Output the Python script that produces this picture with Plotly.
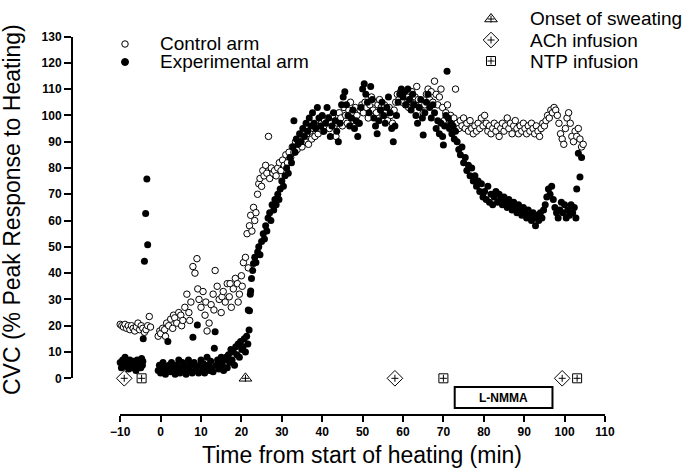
import plotly.graph_objects as go

# ---------------- data ----------------
# Control arm (open circles): time (min) and CVC (% peak)
ctrl_t = [
    -10.0, -9.6, -9.2, -8.8, -8.4, -8.0, -7.6, -7.2, -6.8, -6.4, -6.0, -5.6, -5.2, -4.8, -4.4, -4.0, -3.6, -3.2, -2.8, -2.5,
    -0.6, -0.2, 0.0, 0.5, 1.0, 1.2, 1.5, 2.0, 2.5, 3.0, 3.2, 3.5, 4.0, 4.5, 5.0, 5.2, 5.5, 6.0, 6.5, 7.0,
    7.2, 7.5, 8.0, 8.5, 9.0, 9.2, 9.5, 10.0, 10.5, 11.0, 11.2, 11.5, 12.0, 12.5, 13.0, 13.2, 13.5, 14.0, 14.5, 15.0,
    15.2, 15.5, 16.0, 16.5, 17.0, 17.2, 17.5, 18.0, 18.5, 19.0, 19.2, 19.5, 20.0, 20.2, 20.5,
    21.0, 21.4, 21.7, 22.0, 22.3, 22.6, 23.0, 23.3, 23.6, 24.0, 24.3, 24.6, 25.0, 25.3, 25.6, 26.0, 26.3, 26.7, 27.0, 27.4,
    27.8, 28.2, 28.6, 29.0, 29.4, 29.8,
    30.2, 30.6, 31.0, 31.4, 31.8, 32.2, 32.6, 33.0, 33.4, 33.8, 34.2, 34.6, 35.0, 35.4, 35.8, 36.2, 36.6, 37.0, 37.4, 37.8,
    38.2, 38.6, 39.0, 39.4, 39.8,
    40.2, 40.6, 41.0, 41.4, 41.8, 42.2, 42.6, 43.0, 43.4, 43.8, 44.2, 44.6, 45.0, 45.4, 45.8, 46.2, 46.6, 47.0, 47.4, 47.8,
    48.2, 48.6, 49.0, 49.4, 49.8, 50.2, 50.6, 51.0, 51.4, 51.8, 52.2, 52.6, 53.0, 53.4, 53.8, 54.2, 54.6,
    55.0, 55.4, 55.8, 56.2, 56.6, 57.0, 57.4, 57.8, 58.2, 58.6, 59.0, 59.4, 59.8, 60.2, 60.6, 61.0, 61.4, 61.8, 62.2, 62.6,
    63.0, 63.4, 63.8, 64.2, 64.6, 65.0, 65.4, 65.8, 66.2, 66.6, 67.0, 67.4, 67.8, 68.2, 68.6, 69.0, 69.4, 69.8,
    70.2, 70.6, 71.0, 71.4, 71.8, 72.2, 72.6, 73.0, 73.4, 73.8, 74.2,
    74.6, 75.0, 75.4, 75.8, 76.2, 76.6, 77.0, 77.4, 77.8, 78.2, 78.6, 79.0, 79.4, 79.8, 80.2, 80.6, 81.0, 81.4, 81.8, 82.2,
    82.6, 83.0, 83.4, 83.8, 84.2, 84.6, 85.0, 85.4, 85.8, 86.2, 86.6, 87.0, 87.4, 87.8, 88.2, 88.6, 89.0, 89.4, 89.8, 90.2,
    90.6, 91.0, 91.4, 91.8, 92.2, 92.6, 93.0, 93.4, 93.8, 94.2, 94.6,
    95.0, 95.4, 95.8, 96.2, 96.6, 97.0, 97.4, 97.8, 98.2, 98.6, 99.0, 99.4, 99.8, 100.2, 100.6, 101.0, 101.4, 101.8, 102.2, 102.6,
    103.0, 103.4, 103.8, 104.2, 104.6,
]
ctrl_v = [
    20.5, 20, 19.5, 20.5, 19, 20, 18.5, 20, 19, 18, 19.5, 21, 18.5, 20, 19, 17.5, 18.5, 20, 23.5, 19.5,
    16, 18, 17, 19, 18.5, 16, 21, 20, 22.5, 19, 24, 23, 21, 25, 24, 20, 22, 27, 32, 25,
    22, 29, 42.5, 40, 45.5, 34, 30, 27, 33, 24, 29, 18, 21, 28, 32, 26, 41, 35, 30, 25,
    31, 33, 29, 36, 31, 36, 27, 34, 38, 36, 29, 32, 39, 35, 44,
    46, 55, 42, 58, 62, 56, 65, 60, 63, 70, 74, 76, 73, 79, 77, 81, 78, 92, 76, 80,
    78, 79, 77, 80, 82, 79,
    83, 81, 85, 82, 86, 84, 88, 86, 90, 87, 89, 92, 88, 91, 90, 93, 89, 94, 91, 95,
    92, 96, 93, 95, 97,
    94, 98, 96, 99, 95, 97, 100, 96, 92, 97, 101, 99, 96, 103, 100, 97, 102, 105, 101, 98,
    103, 100, 97, 102, 104, 101, 105, 103, 99, 104, 107, 102, 105, 101, 104, 106, 103,
    100, 104, 101, 98, 103, 100, 97, 102, 105, 108, 106, 109, 105, 108, 104, 107, 103, 106, 109, 104,
    107, 111, 106, 103, 105, 101, 104, 108, 110, 106, 109, 105, 113, 108, 104, 107, 110, 103,
    98, 101, 104, 97, 100, 95, 99, 110, 97, 95, 98,
    96, 99, 95, 97, 94, 98, 95, 93, 96, 94, 97, 95, 99, 96, 100, 97, 94, 96, 93, 95,
    97, 94, 96, 92, 95, 97, 94, 96, 99, 95, 97, 93, 96, 98, 95, 93, 96, 94, 97, 95,
    93, 96, 94, 97, 95, 93, 96, 94, 92, 95, 97,
    96, 98, 100, 99, 102, 101, 103, 102, 100, 97, 93, 91, 89, 95, 99, 101, 97, 92, 90, 94,
    92, 95, 91, 88, 89,
]

# Experimental arm (filled circles)
exp_t = [
    -10.0, -9.7, -9.4, -9.1, -8.8, -8.5, -8.2, -7.9, -7.6, -7.3, -7.0, -6.7, -6.4, -6.1, -5.8, -5.5, -5.2, -4.9, -4.7, -4.5,
    -4.4, -4.3, -4.0, -3.7, -3.4, -3.2,
    -0.6, -0.3, 0.0, 0.3, 0.6, 0.9, 1.2, 1.5, 1.8, 2.1, 2.4, 2.7, 3.0, 3.3, 3.6, 3.9, 4.2, 4.5, 4.8, 5.1,
    5.4, 5.7, 6.0, 6.3, 6.6, 6.9, 7.2, 7.5, 7.8, 8.0, 8.3, 8.6, 8.9, 9.1, 9.4, 9.7, 10.0, 10.3, 10.6, 10.9,
    11.2, 11.5, 11.8, 12.1, 12.4, 12.7, 13.0, 13.3, 13.5, 13.8, 14.1, 14.4, 14.7, 15.0, 15.3, 15.6, 15.9,
    16.2, 16.5, 16.8, 17.1, 17.4, 17.7, 18.0, 18.3, 18.6, 18.9, 19.2, 19.5, 19.8, 20.1, 20.4, 20.7, 21.0, 21.3, 21.6,
    21.7, 21.9, 22.0, 22.2, 22.3, 22.5, 22.8, 23.0, 23.3, 23.6, 24.0, 24.3, 24.6, 25.0, 25.4, 25.7, 26.0, 26.3, 26.6, 27.0,
    27.3, 27.6, 28.0, 28.3, 28.6, 29.0, 29.3, 29.6, 30.0, 30.4, 30.8,
    31.2, 31.6, 32.0, 32.4, 32.8, 33.0, 33.3, 33.6, 34.0, 34.4, 34.8, 35.2, 35.6, 36.0, 36.4, 36.8, 37.2, 37.6, 38.0, 38.4,
    38.8, 39.2, 39.6,
    40.0, 40.4, 40.8, 41.2, 41.6, 42.0, 42.4, 42.8, 43.2, 43.6, 44.0, 44.4, 44.8, 45.2, 45.6, 46.0, 46.4, 46.8, 47.2, 47.6,
    48.0, 48.4, 48.8, 49.2, 49.6, 50.0, 50.4, 50.8, 51.2, 51.6, 52.0, 52.4, 52.8, 53.2, 53.6, 54.0, 54.4, 54.8,
    55.2, 55.6, 56.0, 56.4, 56.8, 57.2, 57.6, 58.0, 58.4, 58.8, 59.2, 59.6, 60.0, 60.4, 60.8, 61.2, 61.6, 62.0, 62.4, 62.8,
    63.2, 63.6, 64.0, 64.4, 64.8, 65.0, 65.4, 65.8, 66.2, 66.6, 67.0, 67.4, 67.8, 68.2, 68.6, 69.0, 69.4, 69.8,
    70.0, 70.3, 70.6, 70.9, 71.2, 71.5, 71.8, 72.1, 72.4, 72.7, 73.0, 73.4, 73.8,
    74.2, 74.6, 75.0, 75.4, 75.8, 76.2, 76.6, 77.0, 77.4, 77.8, 78.2, 78.6, 79.0, 79.4, 79.8,
    80.2, 80.6, 81.0, 81.4, 81.8, 82.2, 82.6, 83.0, 83.4, 83.8, 84.2, 84.6, 85.0, 85.4, 85.8, 86.2, 86.6, 87.0, 87.4, 87.8,
    88.2, 88.6, 89.0, 89.4, 89.8, 90.2, 90.6, 91.0, 91.4, 91.8, 92.2, 92.6, 92.8, 93.2, 93.6, 94.0, 94.4, 94.8,
    95.2, 95.6, 96.0, 96.4, 96.8, 97.2, 97.6, 98.0, 98.4, 98.8, 99.2, 99.6, 100.0, 100.4, 100.8, 101.2, 101.6, 102.0, 102.4, 102.8,
    103.0, 103.4, 103.8, 104.2,
]
exp_v = [
    6, 4, 7, 5, 8, 4.5, 6, 3.5, 7, 5, 4, 6.5, 5.5, 3, 7, 5, 6, 4, 7.5, 5,
    6.5, 15, 44.5, 62.7, 75.8, 50.8,
    3, 5, 2, 4, 6, 3, 1.5, 4, 14, 5, 2.5, 6, 3, 4.5, 1.5, 5, 3, 7, 2, 4,
    6, 3, 5, 1.5, 4, 7, 3, 5, 2, 15.6, 6, 3, 4.5, 20.3, 2, 5, 7, 3, 5.5, 2,
    4, 8, 5, 3, 6.5, 4, 2.5, 11.4, 17.7, 5, 7, 3.5, 6, 8, 5, 3, 7,
    8, 4, 9, 6, 11, 7, 10, 5, 12, 9, 13, 8, 14, 11, 12, 15, 10, 16, 13,
    26, 18.4, 25.7, 32, 33.2, 38, 41, 43.7, 46, 44, 48, 50, 47, 52, 55, 53, 58, 56, 61, 63,
    60, 66, 64, 68, 66, 70, 68, 72, 75, 73, 77,
    80, 78, 84, 82, 88, 98, 86, 91, 89, 93, 90, 95, 92, 97, 94, 99, 96, 101, 97, 95,
    103, 99, 96,
    100, 94, 97, 103, 99, 92, 96, 101, 98, 94, 90, 97, 104, 107, 109, 104, 100, 96, 99, 102,
    95, 98, 92, 97, 103, 110, 112, 108, 105, 101, 111, 106, 99, 96, 93, 98, 102, 105,
    100, 97, 103, 107, 101, 95, 90, 96, 100, 105, 108, 110, 107, 109, 104, 110, 106, 102, 108, 104,
    100, 97, 103, 106, 99, 92.5, 101, 105, 108, 103, 99, 104, 101, 95, 98, 93, 97, 92,
    88.7, 96, 100, 116.8, 99, 95, 97, 93, 96, 91, 94, 90, 87,
    85, 88, 82, 84, 79, 81, 77, 80, 75, 77, 73, 75, 71, 74, 69,
    71, 68, 73, 67, 70, 66, 69, 71, 67, 70, 68, 66, 69, 67, 65, 68, 66, 64, 67, 65,
    63, 66, 64, 62, 65, 63, 61, 64, 62, 60, 63, 61, 58, 62, 60, 63, 61, 64,
    66, 69, 72, 70, 73, 68, 65, 63, 61, 64, 67, 63, 66, 61, 64, 62, 66, 63, 65, 61,
    72, 85.6, 76.6, 84,
]
assert len(ctrl_t) == len(ctrl_v), (len(ctrl_t), len(ctrl_v))
assert len(exp_t) == len(exp_v), (len(exp_t), len(exp_v))

# Event times (min), plotted on the zero line
sweat_t = [21.0]
ach_t = [-9.0, 58.0, 99.4]
ntp_t = [-4.7, 70.0, 103.1]
event_level = 0
# L-NMMA infusion period (min)
lnmma_start, lnmma_end = 72.8, 97.0

x_ticks = [-10, 0, 10, 20, 30, 40, 50, 60, 70, 80, 90, 100, 110]
y_ticks = [0, 10, 20, 30, 40, 50, 60, 70, 80, 90, 100, 110, 120, 130]

# ---------------- layout geometry ----------------
W, H = 682, 468
ML, MR, MT, MB = 72, 77, 6, 53
PW, PH = W - ML - MR, H - MT - MB
FONT = "Liberation Sans, Arial, Helvetica, sans-serif"


def px(xp):
    return (xp - ML) / PW


def py(yp):
    return (H - MB - yp) / PH


x_dom0 = px(120.2)
y_dom0 = py(378.3)
y_dom1 = py(36.5)

fig = go.Figure()

# data series
fig.add_trace(go.Scatter(
    x=ctrl_t, y=ctrl_v, mode="markers", name="Control arm", cliponaxis=False,
    marker=dict(symbol="circle", size=6.5, color="white", line=dict(color="black", width=1)),
))
fig.add_trace(go.Scatter(
    x=exp_t, y=exp_v, mode="markers", name="Experimental arm", cliponaxis=False,
    marker=dict(symbol="circle", size=7, color="black", line=dict(color="black", width=0)),
))

# event markers: outline + small plus inside
ev_specs = [
    (sweat_t, "triangle-up-open", 11),
    (ach_t, "diamond-open", 12),
    (ntp_t, "square-open", 9),
]
for times, sym, size in ev_specs:
    ys = [event_level] * len(times)
    fig.add_trace(go.Scatter(x=times, y=ys, mode="markers", cliponaxis=False,
                             marker=dict(symbol=sym, size=size, color="black", line=dict(color="black", width=1))))
    fig.add_trace(go.Scatter(x=times, y=ys, mode="markers", cliponaxis=False,
                             marker=dict(symbol="cross-thin", size=5, color="black", line=dict(color="black", width=1))))

# legend glyphs on a pixel-based helper axis pair
leg_glyphs = [
    (125, 44, "circle", 6.5, "white", None),
    (125, 62, "circle", 7, "black", None),
    (491, 19, "triangle-up-open", 11, "black", "cross"),
    (491, 40, "diamond-open", 12, "black", "cross"),
    (491, 61, "square-open", 9, "black", "cross"),
]
for gx, gy, sym, size, col, extra in leg_glyphs:
    fig.add_trace(go.Scatter(x=[gx], y=[gy], xaxis="x2", yaxis="y2", mode="markers", cliponaxis=False,
                             marker=dict(symbol=sym, size=size, color=col, line=dict(color="black", width=1))))
    if extra:
        fig.add_trace(go.Scatter(x=[gx], y=[gy], xaxis="x2", yaxis="y2", mode="markers", cliponaxis=False,
                                 marker=dict(symbol="cross-thin", size=5, color="black",
                                             line=dict(color="black", width=1))))

tickfont = dict(family=FONT, size=12, color="black", weight="bold")
fig.update_layout(
    template="none",
    width=W, height=H,
    margin=dict(l=ML, r=MR, t=MT, b=MB, autoexpand=False),
    paper_bgcolor="white", plot_bgcolor="rgba(0,0,0,0)",
    showlegend=False,
    xaxis=dict(domain=[x_dom0, 1], range=[-10, 110], tickvals=x_ticks, ticks="outside", ticklen=6,
               tickwidth=1.5, tickcolor="black", showline=True, linewidth=2, linecolor="black",
               anchor="free", position=0, showgrid=False, zeroline=False, tickfont=tickfont,
               automargin=False),
    yaxis=dict(domain=[y_dom0, y_dom1], range=[0, 130], tickvals=y_ticks, ticks="outside", ticklen=7,
               tickwidth=1.5, tickcolor="black", showline=True, linewidth=2, linecolor="black",
               anchor="free", position=0, showgrid=False, zeroline=False, tickfont=tickfont,
               automargin=False),
    xaxis2=dict(domain=[0, 1], range=[ML, W - MR], visible=False, anchor="y2", automargin=False),
    yaxis2=dict(domain=[0, 1], range=[H - MB, MT], visible=False, anchor="x2", automargin=False),
)

# L-NMMA box
fig.add_shape(type="rect", xref="x", yref="paper", x0=lnmma_start, x1=lnmma_end,
              y0=py(408), y1=py(387), line=dict(color="black", width=2), fillcolor="white")

LEG = dict(family=FONT, size=19, color="black")
annots = [
    dict(text="<b>L-NMMA</b>", x=(lnmma_start + lnmma_end) / 2, xref="x", y=py(397.5), yref="paper",
         font=dict(family=FONT, size=12, color="black"), xanchor="center", yanchor="middle"),
    dict(text="CVC (% Peak Response to Heating)", x=px(12), y=py(210), textangle=-90,
         font=dict(family=FONT, size=23, color="black"), xanchor="center", yanchor="middle"),
    dict(text="Time from start of heating (min)", x=px(362), y=py(455),
         font=dict(family=FONT, size=23, color="black"), xanchor="center", yanchor="middle"),
    dict(text="Control arm", x=px(158), y=py(44), font=LEG, xanchor="left", yanchor="middle"),
    dict(text="Experimental arm", x=px(158), y=py(62), font=LEG, xanchor="left", yanchor="middle"),
    dict(text="Onset of sweating", x=px(528), y=py(19), font=LEG, xanchor="left", yanchor="middle"),
    dict(text="ACh infusion", x=px(528), y=py(40), font=LEG, xanchor="left", yanchor="middle"),
    dict(text="NTP infusion", x=px(528), y=py(61), font=LEG, xanchor="left", yanchor="middle"),
]
for a in annots:
    a.setdefault("xref", "paper")
    a.setdefault("yref", "paper")
    a["showarrow"] = False
    fig.add_annotation(**a)

fig.write_html("out.html", config={"displayModeBar": False},
               post_script="document.body.style.margin='0';document.body.style.overflow='hidden';")
